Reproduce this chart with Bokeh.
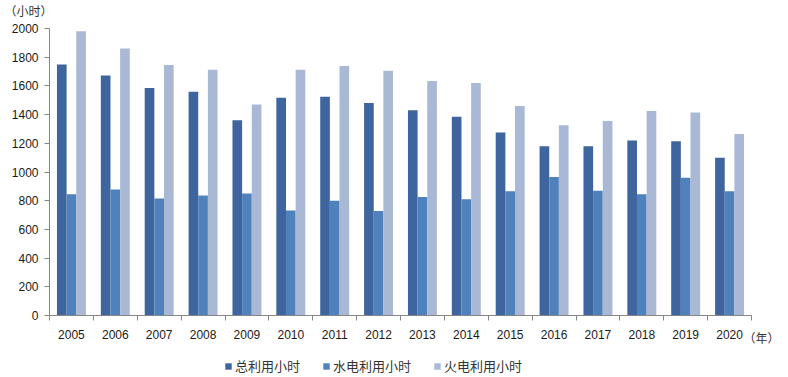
from bokeh.plotting import figure
from bokeh.models import ColumnDataSource, Range1d, FixedTicker, Legend, LegendItem, Label
from bokeh.embed import file_html
from bokeh.resources import INLINE

years = ["2005", "2006", "2007", "2008", "2009", "2010", "2011", "2012",
         "2013", "2014", "2015", "2016", "2017", "2018", "2019", "2020"]
total_hours = [1750, 1672, 1585, 1560, 1360, 1518, 1525, 1480,
               1430, 1385, 1275, 1180, 1180, 1220, 1215, 1100]
hydro_hours = [845, 878, 815, 836, 850, 732, 800, 728,
               825, 810, 865, 965, 870, 845, 960, 865]
thermal_hours = [1980, 1860, 1745, 1712, 1470, 1713, 1738, 1705,
                 1635, 1620, 1460, 1325, 1355, 1425, 1415, 1265]
series_names = ["总利用小时", "水电利用小时", "火电利用小时"]
y_ticks = list(range(0, 2001, 200))

colors = ["#3F659E", "#4F81BD", "#A9B8D4"]
bw = 0.22
n = len(years)
idx = list(range(n))

# layout geometry (pixels): axes box from x=49..751, y=28..315 in a 788x377 canvas
W, H = 788, 377
left_px, right_px, top_px, bottom_px = 49, 751, 28, 315
x0, x1 = -0.5, n - 0.5
y0, y1 = 0, 2000
sx = (right_px - left_px) / (x1 - x0)
sy = (bottom_px - top_px) / (y1 - y0)
xr = Range1d(x0 - left_px / sx, x1 + (W - right_px) / sx)
yr = Range1d(y0 - (H - bottom_px) / sy, y1 + top_px / sy)

p = figure(width=W, height=H, output_backend="svg", toolbar_location=None,
           x_range=xr, y_range=yr,
           min_border_left=0, min_border_right=0, min_border_top=0, min_border_bottom=0)
p.outline_line_color = None
p.xgrid.visible = False
p.ygrid.visible = False

renderers = []
for k, vals in enumerate([total_hours, hydro_hours, thermal_hours]):
    src = ColumnDataSource(dict(x=[i + (k - 1) * bw for i in idx], top=vals))
    r = p.vbar(x="x", top="top", bottom=0, width=bw, source=src,
               fill_color=colors[k], line_color=None)
    renderers.append(r)

font = "Liberation Sans"
# x axis
p.xaxis.fixed_location = 0
p.xaxis.bounds = (x0, x1)
p.xaxis.ticker = FixedTicker(ticks=idx, minor_ticks=[i - 0.5 for i in range(n + 1)])
p.xaxis.major_label_overrides = {i: y for i, y in enumerate(years)}
p.xaxis.major_tick_line_color = None
p.xaxis.minor_tick_line_color = "#868686"
p.xaxis.minor_tick_in = 0
p.xaxis.minor_tick_out = 5
p.xaxis.axis_line_color = "#868686"
p.xaxis.major_label_text_font = font
p.xaxis.major_label_text_font_size = "12px"
p.xaxis.major_label_text_color = "#1a1a1a"
p.xaxis.major_label_standoff = 8

# y axis
p.yaxis.fixed_location = x0
p.yaxis.bounds = (y0, y1)
p.yaxis.ticker = FixedTicker(ticks=y_ticks, minor_ticks=[])
p.yaxis.major_tick_line_color = "#868686"
p.yaxis.major_tick_in = 0
p.yaxis.major_tick_out = 5
p.yaxis.axis_line_color = "#868686"
p.yaxis.major_label_text_font = font
p.yaxis.major_label_text_font_size = "12px"
p.yaxis.major_label_text_color = "#1a1a1a"
p.yaxis.major_label_standoff = 6

cjk = "Noto Sans CJK SC"
p.add_layout(Label(x=x0, y=y1, x_offset=-45, y_offset=10, text="（小时）",
                   text_font=cjk, text_font_size="12px", text_color="#333333"))
p.add_layout(Label(x=x1, y=0, x_offset=-8, y_offset=-30, text="（年）",
                   text_font=cjk, text_font_size="12px", text_color="#333333"))

legend = Legend(items=[LegendItem(label=series_names[k], renderers=[renderers[k]]) for k in range(3)],
                orientation="horizontal", location=(224, 2),
                glyph_width=8, glyph_height=8, label_standoff=3, spacing=22,
                padding=0, margin=0, border_line_color=None, background_fill_alpha=0,
                label_text_font=cjk, label_text_font_size="13px", label_text_color="#333333")
p.add_layout(legend, "center")

open("out.html", "w").write(file_html(p, INLINE))
